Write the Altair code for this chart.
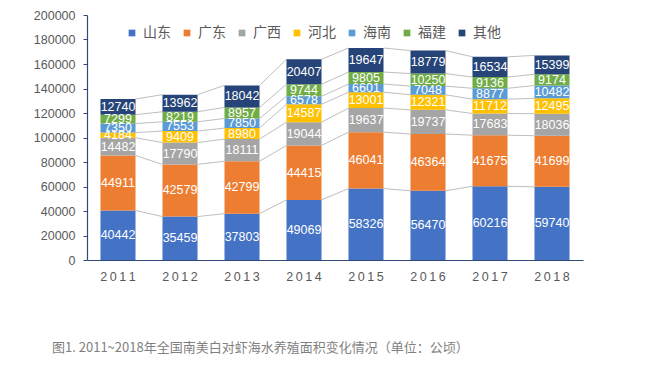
import altair as alt
import pandas as pd

years = ["2011", "2012", "2013", "2014", "2015", "2016", "2017", "2018"]
series = ["山东", "广东", "广西", "河北", "海南", "福建", "其他"]
colors = ["#4472C4", "#ED7D31", "#A5A5A5", "#FFC000", "#5B9BD5", "#70AD47", "#264478"]

shandong = [40442, 35459, 37803, 49069, 58326, 56470, 60216, 59740]
guangdong = [44911, 42579, 42799, 44415, 46041, 46364, 41675, 41699]
guangxi = [14482, 17790, 18111, 19044, 19637, 19737, 17683, 18036]
hebei = [4184, 9409, 8980, 14587, 13001, 12321, 11712, 12495]
hainan = [7350, 7553, 7850, 6578, 6601, 7048, 8877, 10482]
fujian = [7299, 8219, 8957, 9744, 9805, 10250, 9136, 9174]
others = [12740, 13962, 18042, 20407, 19647, 18779, 16534, 15399]
ytick_values = [0, 20000, 40000, 60000, 80000, 100000, 120000, 140000, 160000, 180000, 200000]

caption = "图1. 2011~2018年全国南美白对虾海水养殖面积变化情况（单位：公顷）"

all_vals = [shandong, guangdong, guangxi, hebei, hainan, fujian, others]

rows = []
tops = {}
for yi, yr in enumerate(years):
    cum = 0
    for si, s in enumerate(series):
        v = all_vals[si][yi]
        rows.append({"year": yr, "series": s, "order": si, "value": v,
                     "y0": cum, "y1": cum + v, "mid": cum + v / 2})
        cum += v
        tops[(yr, s)] = cum
df = pd.DataFrame(rows)

lrows = []
for yi in range(len(years) - 1):
    for s in series:
        lrows.append({"from": years[yi], "to": years[yi + 1], "series": s,
                      "ya": tops[(years[yi], s)], "yb": tops[(years[yi + 1], s)]})
dl = pd.DataFrame(lrows)

xscale = alt.Scale(domain=years, paddingInner=0.435, paddingOuter=0.2175)
yscale = alt.Scale(domain=[0, 200000], nice=False)

xaxis = alt.Axis(title=None, labelColor="#595959", labelFontSize=12.5, labelFont="Liberation Sans",
                 labelExpr="join(split(datum.label, ''), '\u2009')",
                 domainColor="#2E4A7D", domainWidth=1.2, ticks=False, labelPadding=10, labelAngle=0)
yaxis = alt.Axis(title=None, values=ytick_values, format="d",
                 labelColor="#595959", labelFontSize=12.5, labelFont="Liberation Sans",
                 labelOverlap=False,
                 domainColor="#2E4A7D", domainWidth=1.2, tickColor="#2E4A7D", tickSize=4,
                 labelPadding=8, grid=False)

bars = alt.Chart(df).mark_bar().encode(
    x=alt.X("year:N", scale=xscale, axis=xaxis, sort=years),
    y=alt.Y("y1:Q", scale=yscale, axis=yaxis),
    y2="y0:Q",
    color=alt.Color("series:N", scale=alt.Scale(domain=series, range=colors),
                    legend=alt.Legend(title=None, orient="none", direction="horizontal",
                                      legendX=38, legendY=11, symbolType="square", symbolSize=45,
                                      labelFont="Noto Sans CJK SC", labelFontSize=14,
                                      labelColor="#595959", columnPadding=9, labelOffset=4,
                                      symbolStrokeWidth=0)),
    order="order:Q",
)

lines = alt.Chart(dl).mark_rule(color="#BFBFBF", strokeWidth=1).encode(
    x=alt.X("from:N", bandPosition=1, scale=xscale, sort=years, axis=xaxis),
    x2=alt.X2(field="to", bandPosition=0),
    y=alt.Y("ya:Q", scale=yscale, axis=yaxis),
    y2="yb:Q",
)

labels = alt.Chart(df).mark_text(color="white", font="Liberation Sans", fontSize=12.5).encode(
    x=alt.X("year:N", scale=xscale, sort=years, axis=xaxis),
    y=alt.Y("mid:Q", scale=yscale, axis=yaxis),
    text="value:Q",
)

chart = alt.layer(lines, bars, labels).properties(
    width=496, height=245,
    autosize=alt.AutoSizeParams(type="none"),
    padding={"left": 79, "top": 7, "right": 55, "bottom": 100},
    title=alt.TitleParams(caption, orient="bottom", anchor="start", frame="group", dx=-35, offset=59,
                          font="Noto Sans CJK SC", fontSize=13, fontWeight="normal",
                          color="#7F7F7F"),
).configure_view(stroke=None)

chart.save("out.html", embed_options={"renderer": "svg", "actions": False})
